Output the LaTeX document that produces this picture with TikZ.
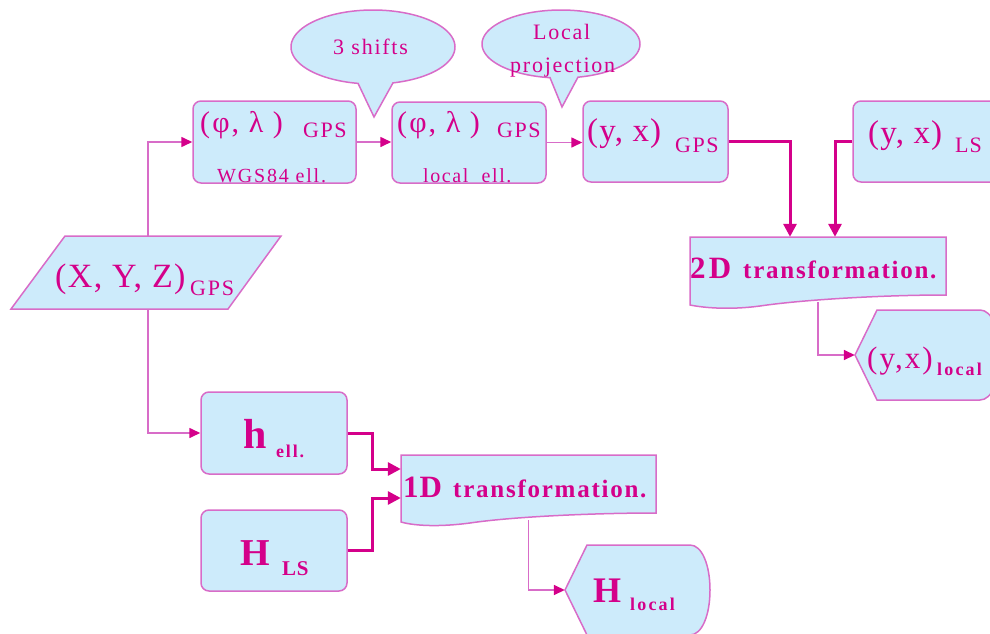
\documentclass[tikz,border=0pt]{standalone}
\usepackage{fontspec}
\setmainfont{Liberation Serif}
\usetikzlibrary{arrows.meta}
\definecolor{fillb}{HTML}{CDEBFB}
\definecolor{edge}{HTML}{D86CC8}
\definecolor{ink}{HTML}{D4008A}
\newcommand{\fs}[1]{\fontsize{#1}{#1}\selectfont}
\newcommand{\lsp}[1]{\addfontfeatures{LetterSpace=#1}}
\tikzset{
  shapestyle/.style={fill=fillb, draw=edge, line width=1.5pt},
  box/.style={shapestyle, rounded corners=8pt, inner sep=0pt},
  ghost/.style={inner sep=0pt, draw=none, minimum width=1pt},
  txt/.style={text=ink, inner sep=0pt, anchor=base west},
  thinarrow/.style={draw=edge, line width=1.6pt, -{Triangle[length=11pt,width=10pt,color=ink]}},
  thickarrow/.style={draw=ink, line width=3pt, -{Triangle[length=13pt,width=13pt,color=ink]}},
}
\begin{document}
\begin{tikzpicture}[x=1pt,y=-1pt]
\useasboundingbox (0,0) rectangle (990,634);
\clip (0,0) rectangle (990,634);

% callouts
\path[shapestyle] plot[domain=100.5:435.9, samples=120] ({373+82*cos(\x)},{47+37*sin(\x)}) -- (374,117) -- cycle;
\path[shapestyle] plot[domain=98:437.6, samples=120] ({561+79*cos(\x)},{44+34*sin(\x)}) -- (562,107) -- cycle;
\node[txt, font=\fs{22}\lsp{8}] (shifts) at (333,55) {3 shifts};
\node[txt, font=\fs{22}\lsp{8}] (loc1) at (533,40) {Local};
\node[txt, font=\fs{22}\lsp{8}] (loc2) at (510,72) {projection};

% top boxes
\node[box, minimum width=163pt, minimum height=82pt] (b1) at (274.5,142) {};
\node[box, minimum width=154pt, minimum height=81pt] (b2) at (469,142.5) {};
\node[box, minimum width=145pt, minimum height=81pt] (b3) at (655.5,141.5) {};
\node[box, minimum width=147pt, minimum height=81pt] (b4) at (926.5,141.5) {};

\node[txt, font=\fs{30}\lsp{7}] (b1a) at (200,132) {(φ, λ )};
\node[txt, font=\fs{22}\lsp{7}] (b1b) at (303,137) {GPS};
\node[txt, font=\fs{20}\lsp{9}] (b1c) at (217,182) {WGS84 ell.};
\node[txt, font=\fs{30}\lsp{7}] (b2a) at (397,132) {(φ, λ )};
\node[txt, font=\fs{22}\lsp{7}] (b2b) at (497,137) {GPS};
\node[txt, font=\fs{20}\lsp{8}] (b2c) at (423,182) {local\ \ ell.};
\node[txt, font=\fs{33}\lsp{3.5}] (b3a) at (587,141) {(y, x)};
\node[txt, font=\fs{22}\lsp{7}] (b3b) at (675,152) {GPS};
\node[txt, font=\fs{33}\lsp{3.5}] (b4a) at (868,143) {(y, x)};
\node[txt, font=\fs{22}\lsp{4}] (b4b) at (955,152) {LS};

% parallelogram
\path[shapestyle] (65,236) -- (281,236) -- (228,309) -- (11,309) -- cycle;
\node[ghost, minimum height=73pt] (par) at (148,272.5) {};
\node[txt, font=\fs{34}\lsp{4}] (parA) at (55,287) {(X, Y, Z)};
\node[txt, font=\fs{22}\lsp{8}] (parB) at (190,295) {GPS};

% 2D transformation (document shape)
\path[shapestyle] (690,237) -- (946,237) -- (946,295) .. controls (880,295) and (800,300) .. (760,306) .. controls (730,310) and (705,308) .. (690,305) -- cycle;
\node[ghost, minimum height=65pt, minimum width=256pt] (td) at (818,269.5) {};
\node[txt, font=\fs{31}\bfseries\lsp{10}] (tdA) at (690,278) {2D};
\node[txt, font=\fs{25}\bfseries\lsp{7}] (tdB) at (743,278) {transformation.};

% (y,x) local display shape
\path[shapestyle] (855,355) -- (877,310) -- (980,310) .. controls (992,310) and (1000,330) .. (1000,355) .. controls (1000,380) and (992,400) .. (980,400) -- (877,400) -- cycle;
\node[ghost, minimum height=90pt, minimum width=145pt] (yxl) at (927.5,355) {};
\node[txt, font=\fs{31}\lsp{6.5}] (yxlA) at (867,368) {(y,x)};
\node[txt, font=\fs{18}\bfseries\lsp{12}] (yxlB) at (937,375) {local};

% height boxes
\node[box, minimum width=146pt, minimum height=82pt] (h) at (274,433) {};
\node[box, minimum width=146pt, minimum height=81pt] (HL) at (274,550.5) {};
\node[txt, font=\fs{42}\bfseries] (hA) at (243,448) {h};
\node[txt, font=\fs{18}\bfseries\lsp{10}] (hB) at (276,457) {ell.};
\node[txt, font=\fs{38}\bfseries] (HA) at (240,565) {H};
\node[txt, font=\fs{21}\bfseries\lsp{3}] (HB) at (282,575) {LS};

% 1D transformation
\path[shapestyle] (401,455) -- (656,455) -- (656,513) .. controls (590,513) and (510,517) .. (470,523) .. controls (440,527) and (415,526) .. (401,522) -- cycle;
\node[ghost, minimum height=65pt, minimum width=255pt] (od) at (528.5,487.5) {};
\node[txt, font=\fs{31}\bfseries\lsp{3}] (odA) at (403,497) {1D};
\node[txt, font=\fs{25}\bfseries\lsp{7}] (odB) at (453,497) {transformation.};

% H local display shape
\path[shapestyle] (565,590) -- (587,545) -- (690,545) .. controls (702,545) and (710,565) .. (710,590) .. controls (710,615) and (702,635) .. (690,635) -- (587,635) -- cycle;
\node[ghost, minimum height=90pt, minimum width=145pt] (hl) at (637.5,590) {};
\node[txt, font=\fs{36}\bfseries] (hlA) at (593,602) {H};
\node[txt, font=\fs{18}\bfseries\lsp{12}] (hlB) at (630,610) {local};

% connectors
\draw[thinarrow] (par.north) |- (b1.west);
\draw[thinarrow] (par.south) |- (h.west);
\draw[thinarrow] (b1.east) -- (b1.east -| b2.west);
\draw[thinarrow] (b2.east) -- (b2.east -| b3.west);
\draw[thickarrow] (b3.east) -| ([xshift=-28pt]td.north);
\draw[thickarrow] (b4.west) -| ([xshift=17pt]td.north);
\draw[thinarrow] (td.south) |- (yxl.west);
\draw[thickarrow] (h.east) -| ([xshift=-28pt,yshift=18.5pt]od.west) -- ([yshift=18.5pt]od.west);
\draw[thickarrow] (HL.east) -| ([xshift=-28pt,yshift=-10.5pt]od.west) -- ([yshift=-10.5pt]od.west);
\draw[thinarrow] (od.south) |- (hl.west);
\end{tikzpicture}
\end{document}
